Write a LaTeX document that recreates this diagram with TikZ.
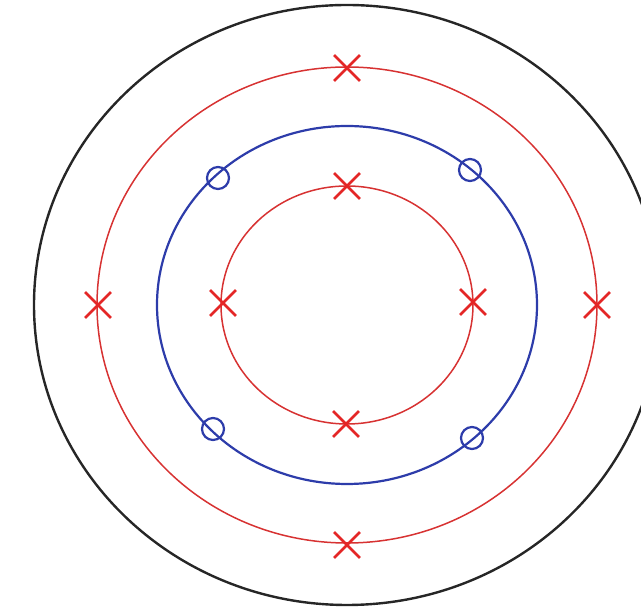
\documentclass[tikz,border=0pt]{standalone}
\usetikzlibrary{shapes.misc}
\definecolor{ringred}{RGB}{215,50,50}
\definecolor{markred}{RGB}{228,38,38}
\definecolor{ringblue}{RGB}{45,60,170}
\begin{document}
\begin{tikzpicture}[x=1pt,y=1pt,
  xmark/.style={cross out,draw=markred,line width=2.8pt,minimum size=23pt,inner sep=0pt},
  omark/.style={circle,draw=ringblue,line width=2.2pt,minimum size=22pt,inner sep=0pt},
  redring/.style={draw=ringred,line width=1.5pt},
  bluering/.style={draw=ringblue,line width=2.2pt}]
\useasboundingbox (0,0) rectangle (641,607);
\clip (0,0) rectangle (641,607);
\coordinate (c) at (347,302);
\draw[black!85,line width=2.4pt] (c) ellipse [x radius=313,y radius=300];
\draw[redring] (c) ellipse [x radius=250,y radius=238];
\draw[bluering] (c) ellipse [x radius=190,y radius=179];
\draw[redring] (c) ellipse [x radius=126,y radius=119];
% outer red crosses
\node[xmark] (ot) at (347,539) {};
\node[xmark] (ob) at (347,62) {};
\node[xmark] (ol) at (98,302) {};
\node[xmark] (or) at (597,302) {};
% inner red crosses
\node[xmark] (it) at (347,421) {};
\node[xmark] (ib) at (346,183) {};
\node[xmark] (il) at (223,304) {};
\node[xmark] (ir) at (473,305) {};
% blue circle markers
\node[omark] (b1) at (218,429) {};
\node[omark] (b2) at (470,437) {};
\node[omark] (b3) at (213,178) {};
\node[omark] (b4) at (472,169) {};
\end{tikzpicture}
\end{document}
